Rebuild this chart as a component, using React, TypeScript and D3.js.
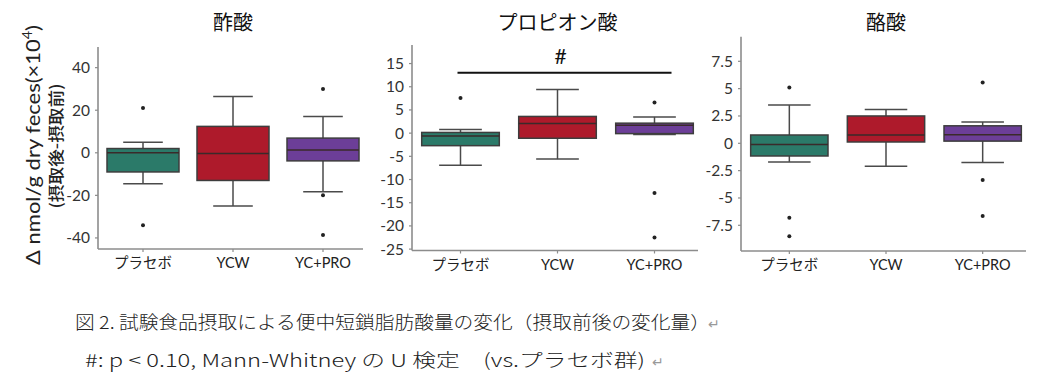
import React from 'react';
import * as d3 from 'd3';

// groups on the x axis
const groups = ['プラセボ', 'YCW', 'YC+PRO'];
const groupColors = ['#2b7a69', '#ae1a2b', '#6c3e98'];

// five-number summaries per group: [whisker low, q1, median, q3, whisker high]
const aceticBoxes = [
  [-14.5, -9, 0, 2, 5],
  [-25, -13, -0.3, 12.4, 26.5],
  [-18.3, -3.8, 1.3, 6.9, 17],
];
const aceticOutliers = [[21, -34], [], [30, -20, -38.6]];
const aceticTicks = [-40, -20, 0, 20, 40];

const propionicBoxes = [
  [-6.9, -2.7, -0.6, 0.15, 0.8],
  [-5.6, -1.1, 2.1, 3.6, 9.4],
  [-0.3, -0.1, 1.7, 2.15, 3.5],
];
const propionicOutliers = [[7.6], [], [6.6, -12.9, -22.5]];
const propionicTicks = [-25, -20, -15, -10, -5, 0, 5, 10, 15];

const butyricBoxes = [
  [-1.7, -1.16, -0.1, 0.76, 3.5],
  [-2.1, 0.12, 0.76, 2.5, 3.1],
  [-1.75, 0.2, 0.79, 1.6, 1.95],
];
const butyricOutliers = [[5.1, -6.8, -8.5], [], [5.55, -3.36, -6.65]];
const butyricTicks = [-7.5, -5, -2.5, 0, 2.5, 5, 7.5];

const LATIN = 'Lato, "Noto Sans CJK JP", sans-serif';
const CJK = '"Noto Sans CJK JP", "Noto Sans", sans-serif';

interface PanelProps {
  title: string;
  boxes: number[][];
  outliers: number[][];
  ticks: number[];
  domain: [number, number];
  xRange: [number, number];
  yRange: [number, number];
  sig?: { from: number; to: number; value: number; label: string };
}

const Panel: React.FC<PanelProps> = ({ title, boxes, outliers, ticks, domain, xRange, yRange, sig }) => {
  const x = d3.scaleBand<string>().domain(groups).range(xRange).paddingInner(0).paddingOuter(0);
  const y = d3.scaleLinear().domain(domain).range(yRange);
  const bw = x.bandwidth() * 0.8;
  const capW = bw * 0.55;
  const axisColor = '#8c8c8c';
  const edge = '#3d3d3d';
  const mid = (xRange[0] + xRange[1]) / 2;

  return (
    <g>
      <text x={mid} y={30} textAnchor="middle" fontFamily={CJK} fontSize={20} fontWeight={400} fill="#111">
        {title}
      </text>

      {/* axes */}
      <line x1={xRange[0]} x2={xRange[0]} y1={yRange[1]} y2={yRange[0]} stroke={axisColor} strokeWidth={1.6} />
      <line x1={xRange[0]} x2={xRange[1] - 5} y1={yRange[0]} y2={yRange[0]} stroke={axisColor} strokeWidth={1.6} />
      {ticks.map(t => (
        <g key={t} transform={`translate(${xRange[0]},${y(t)})`}>
          <line x1={-3} x2={0} stroke={axisColor} strokeWidth={1.2} />
          <text x={-8} dy="0.35em" textAnchor="end" fontFamily={LATIN} fontSize={15.5} fill="#333">
            {t}
          </text>
        </g>
      ))}
      {groups.map(g => (
        <g key={g} transform={`translate(${x(g)! + x.bandwidth() / 2},${yRange[0]})`}>
          <line y1={0} y2={3} stroke={axisColor} strokeWidth={1.2} />
          <text y={19} textAnchor="middle" fontFamily={LATIN} fontSize={14.5} fill="#222">
            {g}
          </text>
        </g>
      ))}

      {/* boxes */}
      {boxes.map((b, i) => {
        const cx = x(groups[i])! + x.bandwidth() / 2;
        const [lo, q1, med, q3, hi] = b;
        return (
          <g key={i}>
            <line x1={cx} x2={cx} y1={y(hi)} y2={y(q3)} stroke="#4a4a4a" strokeWidth={1.5} />
            <line x1={cx} x2={cx} y1={y(q1)} y2={y(lo)} stroke="#4a4a4a" strokeWidth={1.5} />
            <line x1={cx - capW / 2} x2={cx + capW / 2} y1={y(hi)} y2={y(hi)} stroke="#4a4a4a" strokeWidth={1.5} />
            <line x1={cx - capW / 2} x2={cx + capW / 2} y1={y(lo)} y2={y(lo)} stroke="#4a4a4a" strokeWidth={1.5} />
            <rect
              x={cx - bw / 2}
              y={y(q3)}
              width={bw}
              height={y(q1) - y(q3)}
              fill={groupColors[i]}
              stroke={edge}
              strokeWidth={1.5}
            />
            <line x1={cx - bw / 2} x2={cx + bw / 2} y1={y(med)} y2={y(med)} stroke="#3a2a2a" strokeWidth={1.5} />
            {outliers[i].map((o, j) => (
              <circle key={j} cx={cx} cy={y(o)} r={2} fill="#222" />
            ))}
          </g>
        );
      })}

      {sig && (
        <g>
          <line
            x1={x(groups[sig.from])! + x.bandwidth() / 2 - 3}
            x2={x(groups[sig.to])! + x.bandwidth() / 2 + 17}
            y1={y(sig.value)}
            y2={y(sig.value)}
            stroke="#111"
            strokeWidth={2}
          />
          <text x={x(groups[1])! + x.bandwidth() / 2 + 3} y={y(sig.value) - 9} textAnchor="middle" fontFamily={LATIN} fontSize={21} fill="#111">
            {sig.label}
          </text>
        </g>
      )}
    </g>
  );
};

export default function App() {
  return (
    <svg width={1051} height={391} style={{ display: 'block', position: 'absolute', left: 0, top: 0, background: '#fff' }}>
      <rect width={1051} height={391} fill="#fff" />

      <text transform="translate(40,145) rotate(-90)" textAnchor="middle" fontFamily={LATIN} fontSize={20} fill="#222" textLength={240} lengthAdjust="spacingAndGlyphs">
        Δ nmol/g dry feces(×10<tspan dy={-8} fontSize={13}>4</tspan><tspan dy={8}>)</tspan>
      </text>
      <text transform="translate(62,146) rotate(-90)" textAnchor="middle" fontFamily={CJK} fontSize={16} fontWeight={500} fill="#222" textLength={125} lengthAdjust="spacingAndGlyphs">
        (摂取後-摂取前)
      </text>

      <Panel
        title="酢酸"
        boxes={aceticBoxes}
        outliers={aceticOutliers}
        ticks={aceticTicks}
        domain={[-45.2, 49.7]}
        xRange={[98, 368]}
        yRange={[249, 47]}
      />
      <Panel
        title="プロピオン酸"
        boxes={propionicBoxes}
        outliers={propionicOutliers}
        ticks={propionicTicks}
        domain={[-25.3, 19]}
        xRange={[412, 703]}
        yRange={[250.5, 45]}
        sig={{ from: 0, to: 2, value: 13, label: '#' }}
      />
      <Panel
        title="酪酸"
        boxes={butyricBoxes}
        outliers={butyricOutliers}
        ticks={butyricTicks}
        domain={[-9.85, 9.75]}
        xRange={[741, 1031]}
        yRange={[251, 36.7]}
      />

      <text x={75} y={329} fontFamily={CJK} fontSize={18} fontWeight={300} fill="#222" textLength={635} lengthAdjust="spacingAndGlyphs">
        図 2. 試験食品摂取による便中短鎖脂肪酸量の変化（摂取前後の変化量）
      </text>
      <text x={708} y={329} fontFamily={CJK} fontSize={14} fill="#999">↵</text>
      <text x={85} y={367} fontFamily={CJK} fontSize={18} fontWeight={300} fill="#222" textLength={560} lengthAdjust="spacingAndGlyphs">
        #: p &lt; 0.10, Mann-Whitney の U 検定　(vs.プラセボ群)
      </text>
      <text x={652} y={367} fontFamily={CJK} fontSize={14} fill="#999">↵</text>
    </svg>
  );
}
